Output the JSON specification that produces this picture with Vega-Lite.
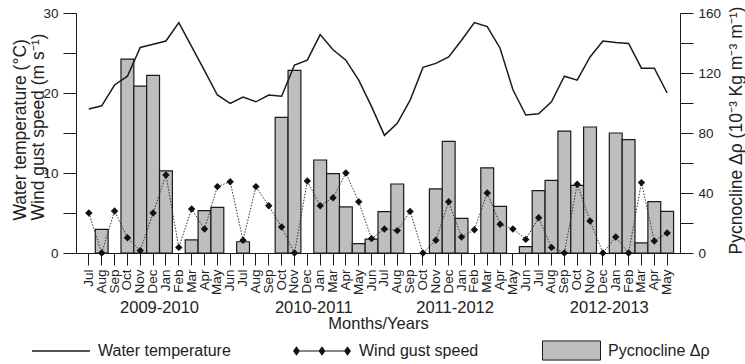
{
  "$schema": "https://vega.github.io/schema/vega-lite/v6.json",
  "width": 604,
  "height": 240,
  "autosize": "none",
  "padding": {"left": 76, "top": 13, "right": 65, "bottom": 111},
  "background": "white",
  "data": {
    "values": [
      {"month": "Jul 2009", "temp": 18.0, "wind": 5.0, "pyc": null},
      {"month": "Aug 2009", "temp": 18.4, "wind": 0.0, "pyc": 15.8},
      {"month": "Sep 2009", "temp": 21.0, "wind": 5.25, "pyc": null},
      {"month": "Oct 2009", "temp": 22.1, "wind": 1.9, "pyc": 129.3},
      {"month": "Nov 2009", "temp": 25.7, "wind": 0.3, "pyc": 111.3},
      {"month": "Dec 2009", "temp": 26.1, "wind": 5.0, "pyc": 118.4},
      {"month": "Jan 2010", "temp": 26.5, "wind": 9.75, "pyc": 54.7},
      {"month": "Feb 2010", "temp": 28.8, "wind": 0.7, "pyc": null},
      {"month": "Mar 2010", "temp": 25.8, "wind": 5.5, "pyc": 8.7},
      {"month": "Apr 2010", "temp": 22.8, "wind": 3.0, "pyc": 28.2},
      {"month": "May 2010", "temp": 19.75, "wind": 8.3, "pyc": 30.4},
      {"month": "Jun 2010", "temp": 18.7, "wind": 8.9, "pyc": null},
      {"month": "Jul 2010", "temp": 19.5, "wind": 1.6, "pyc": 7.5},
      {"month": "Aug 2010", "temp": 18.9, "wind": 8.3, "pyc": null},
      {"month": "Sep 2010", "temp": 19.75, "wind": 5.9, "pyc": null},
      {"month": "Oct 2010", "temp": 19.6, "wind": 3.25, "pyc": 90.4},
      {"month": "Nov 2010", "temp": 23.5, "wind": 0.0, "pyc": 121.8},
      {"month": "Dec 2010", "temp": 24.1, "wind": 9.0, "pyc": null},
      {"month": "Jan 2011", "temp": 27.3, "wind": 5.9, "pyc": 62.0},
      {"month": "Mar 2011", "temp": 25.4, "wind": 6.9, "pyc": 52.9},
      {"month": "Apr 2011", "temp": 24.1, "wind": 10.0, "pyc": 30.7},
      {"month": "May 2011", "temp": 21.6, "wind": 6.4, "pyc": 6.2},
      {"month": "Jun 2011", "temp": 18.3, "wind": 1.8, "pyc": 9.3},
      {"month": "Jul 2011", "temp": 14.7, "wind": 3.0, "pyc": 27.6},
      {"month": "Aug 2011", "temp": 16.2, "wind": 2.8, "pyc": 46.0},
      {"month": "Sep 2011", "temp": 19.1, "wind": 5.2, "pyc": null},
      {"month": "Oct 2011", "temp": 23.2, "wind": 0.0, "pyc": null},
      {"month": "Nov 2011", "temp": 23.7, "wind": 1.6, "pyc": 42.7},
      {"month": "Dec 2011", "temp": 24.5, "wind": 6.4, "pyc": 74.4},
      {"month": "Jan 2012", "temp": 26.6, "wind": 2.0, "pyc": 23.1},
      {"month": "Feb 2012", "temp": 28.8, "wind": 2.9, "pyc": null},
      {"month": "Mar 2012", "temp": 28.3, "wind": 7.5, "pyc": 56.7},
      {"month": "Apr 2012", "temp": 25.6, "wind": 3.6, "pyc": 31.1},
      {"month": "May 2012", "temp": 20.4, "wind": 3.0, "pyc": null},
      {"month": "Jun 2012", "temp": 17.25, "wind": 1.7, "pyc": 4.2},
      {"month": "Jul 2012", "temp": 17.4, "wind": 4.4, "pyc": 41.6},
      {"month": "Aug 2012", "temp": 18.9, "wind": 0.7, "pyc": 48.4},
      {"month": "Sep 2012", "temp": 22.1, "wind": 0.0, "pyc": 81.3},
      {"month": "Oct 2012", "temp": 21.6, "wind": 8.6, "pyc": 45.1},
      {"month": "Nov 2012", "temp": 24.5, "wind": 4.0, "pyc": 84.0},
      {"month": "Dec 2012", "temp": 26.5, "wind": 0.0, "pyc": null},
      {"month": "Jan 2013", "temp": 26.3, "wind": 2.0, "pyc": 80.0},
      {"month": "Feb 2013", "temp": 26.2, "wind": 0.0, "pyc": 75.6},
      {"month": "Mar 2013", "temp": 23.1, "wind": 8.8, "pyc": 6.7},
      {"month": "Apr 2013", "temp": 23.1, "wind": 1.5, "pyc": 34.2},
      {"month": "May 2013", "temp": 20.0, "wind": 2.5, "pyc": 27.8}
    ]
  },
  "layer": [
    {
      "mark": {"type": "bar", "stroke": "#1a1a1a", "strokeWidth": 1.2},
      "encoding": {
        "x": {
          "field": "month", "type": "nominal", "sort": null,
          "scale": {
            "domain": [
              "Jul 2009", "Aug 2009", "Sep 2009", "Oct 2009", "Nov 2009", "Dec 2009",
              "Jan 2010", "Feb 2010", "Mar 2010", "Apr 2010", "May 2010", "Jun 2010",
              "Jul 2010", "Aug 2010", "Sep 2010", "Oct 2010", "Nov 2010", "Dec 2010",
              "Jan 2011", "Mar 2011", "Apr 2011", "May 2011", "Jun 2011",
              "Jul 2011", "Aug 2011", "Sep 2011", "Oct 2011", "Nov 2011", "Dec 2011",
              "Jan 2012", "Feb 2012", "Mar 2012", "Apr 2012", "May 2012", "Jun 2012",
              "Jul 2012", "Aug 2012", "Sep 2012", "Oct 2012", "Nov 2012", "Dec 2012",
              "Jan 2013", "Feb 2013", "Mar 2013", "Apr 2013", "May 2013"
            ],
            "paddingInner": 0, "paddingOuter": 0.5
          },
          "axis": {
            "orient": "bottom", "title": null, "labelAngle": 270,
            "labelExpr": "split(datum.label, ' ')[0]",
            "tickSize": 12, "labelPadding": 4, "labelOverlap": false,
            "labelFontSize": 13.5
          }
        },
        "y": {
          "field": "pyc", "type": "quantitative",
          "scale": {"domain": [0, 160], "nice": false},
          "axis": {
            "orient": "right",
            "values": [0, 20, 40, 60, 80, 100, 120, 140, 160],
            "labelExpr": "datum.value % 40 === 0 ? datum.label : ''",
            "labelFlush": false, "labelOverlap": false,
            "tickSize": 13, "labelPadding": 5,
            "title": "Pycnocline Δρ (10⁻³ Kg m⁻³ m⁻¹)",
            "titleAngle": 270, "titleBaseline": "top", "titleAlign": "center",
            "titleX": 47, "titleY": 117,
            "encode": {
              "ticks": {"x2": {"condition": {"test": "datum.value % 40 === 0", "value": 13}, "value": 7}}
            }
          }
        },
        "color": {
          "datum": "Pycnocline Δρ",
          "scale": {"range": ["#bebebe"]},
          "legend": {
            "legendX": 466, "legendY": 308,
            "symbolType": "M-1,-0.33H1V0.33H-1Z",
            "symbolStrokeColor": "#1a1a1a", "symbolStrokeWidth": 1
          }
        }
      }
    },
    {
      "mark": {"type": "line", "strokeWidth": 1.5},
      "encoding": {
        "x": {
          "field": "month", "type": "nominal", "sort": null,
          "axis": {
            "orient": "bottom",
            "values": ["Dec 2009", "Dec 2010", "Dec 2011", "Dec 2012"],
            "labelExpr": "split(datum.value, ' ')[1] + '-' + (toNumber(split(datum.value, ' ')[1]) + 1)",
            "labelAngle": 0, "labelAlign": "center", "labelBaseline": "top",
            "labelOffset": 6.42, "labelPadding": 46, "ticks": false, "tickSize": 0,
            "domain": false, "labelOverlap": false, "labelFontSize": 16.5,
            "title": "Months/Years", "titleFontSize": 16.5,
            "titleY": 62, "titleBaseline": "top"
          }
        },
        "y": {
          "field": "temp", "type": "quantitative",
          "scale": {"domain": [0, 30], "nice": false},
          "axis": {
            "orient": "left",
            "values": [0, 5, 10, 15, 20, 25, 30],
            "labelExpr": "datum.value % 10 === 0 ? datum.label : ''",
            "labelFlush": false, "labelOverlap": false,
            "tickSize": 13, "labelPadding": 5,
            "title": ["Water temperature (°C)", "Wind gust speed (m s⁻¹)"],
            "titleAngle": 270, "titleBaseline": "bottom", "titleAlign": "left",
            "titleX": -47, "titleY": 207, "titleLineHeight": 18,
            "encode": {
              "ticks": {"x2": {"condition": {"test": "datum.value % 10 === 0", "value": -13}, "value": -8}}
            }
          }
        },
        "color": {
          "datum": "Water temperature",
          "scale": {"range": ["#1a1a1a"]},
          "legend": {
            "legendX": -45, "legendY": 308,
            "symbolType": "M-1,0H1", "symbolStrokeWidth": 1.5
          }
        }
      }
    },
    {
      "mark": {"type": "line", "stroke": "#333", "strokeWidth": 1, "strokeDash": [1.5, 1.5]},
      "encoding": {
        "x": {"field": "month", "type": "nominal", "sort": null, "axis": null},
        "y": {"field": "wind", "type": "quantitative", "scale": {"domain": [0, 30], "nice": false}, "axis": null}
      }
    },
    {
      "mark": {"type": "point", "shape": "diamond", "filled": true, "size": 55, "opacity": 1},
      "encoding": {
        "x": {"field": "month", "type": "nominal", "sort": null, "axis": null},
        "y": {"field": "wind", "type": "quantitative", "scale": {"domain": [0, 30], "nice": false}, "axis": null},
        "color": {
          "datum": "Wind gust speed",
          "scale": {"range": ["#111"]},
          "legend": {
            "legendX": 216, "legendY": 308,
            "symbolType": "M-0.88,-0.02H0.88V0.02H-0.88ZM-0.88,-0.16L-0.76,0L-0.88,0.16L-1,0ZM0,-0.16L0.12,0L0,0.16L-0.12,0ZM0.88,-0.16L1,0L0.88,0.16L0.76,0Z"
          }
        }
      }
    }
  ],
  "resolve": {
    "scale": {"y": "independent", "color": "independent"},
    "axis": {"x": "independent"}
  },
  "config": {
    "font": "Liberation Sans",
    "view": {"stroke": null},
    "axis": {
      "grid": false,
      "domainColor": "#1a1a1a", "domainWidth": 1,
      "tickColor": "#1a1a1a", "tickWidth": 1,
      "labelColor": "#222", "titleColor": "#222",
      "labelFont": "Liberation Sans", "titleFont": "Liberation Sans",
      "labelFontSize": 13.5, "titleFontSize": 17.5, "titleFontWeight": "normal"
    },
    "legend": {
      "orient": "none", "direction": "horizontal", "title": null, "padding": 0,
      "symbolSize": 3364, "symbolOpacity": 1,
      "labelFont": "Liberation Sans", "labelFontSize": 16, "labelColor": "#222",
      "labelOffset": 7
    }
  }
}
